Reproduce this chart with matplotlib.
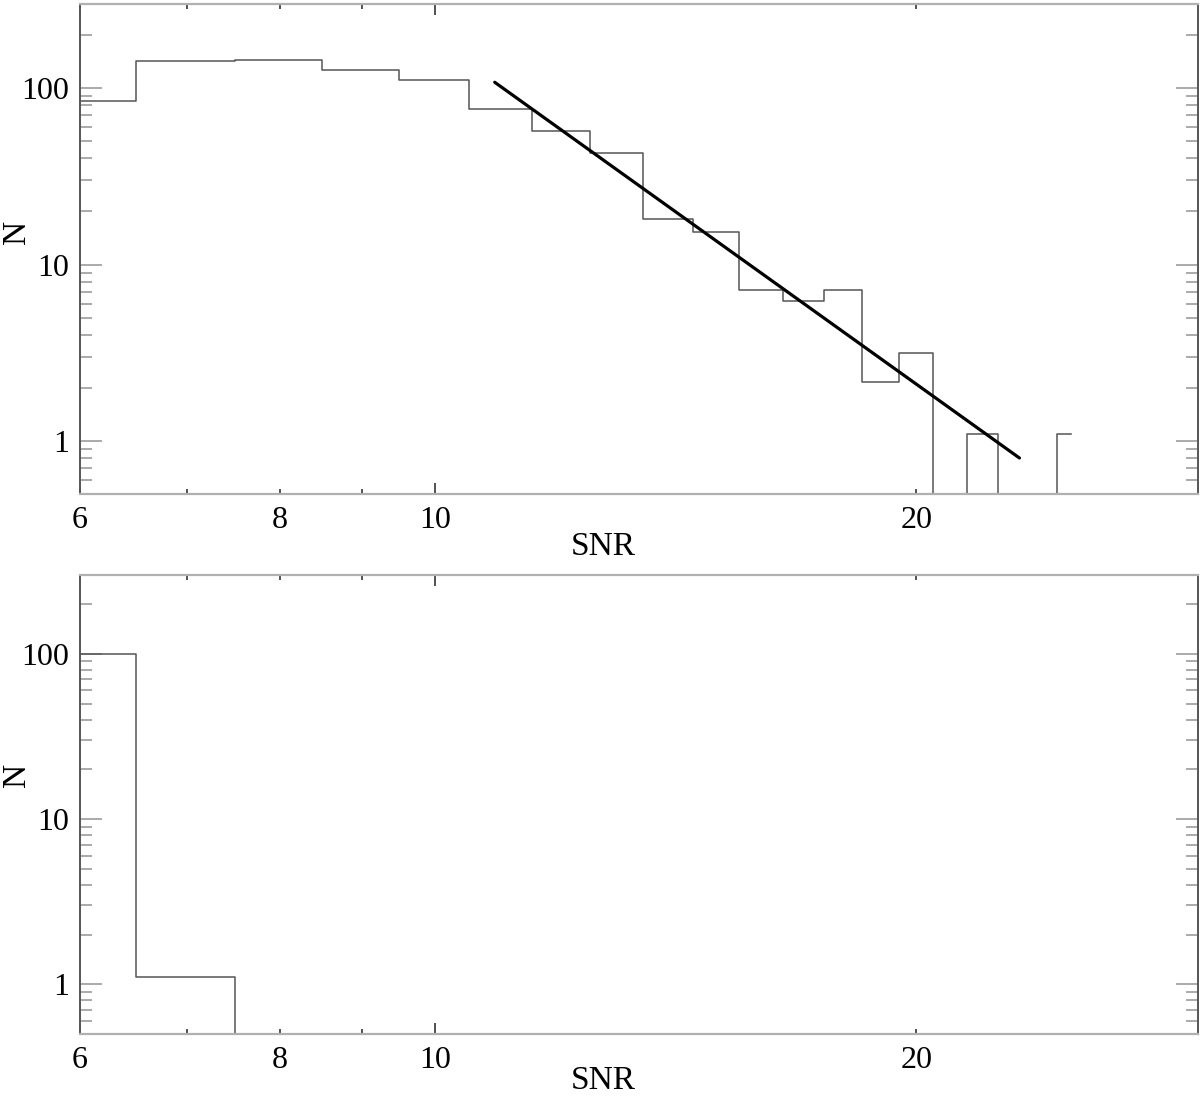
import matplotlib
matplotlib.use('Agg')
import matplotlib.pyplot as plt
from matplotlib.ticker import FixedLocator, FuncFormatter, LogLocator, NullFormatter

# histogram bin centres (SNR) and plotted counts (zero bins shown as 0.1, below the axis)
snr = [6, 7, 8, 9, 10, 11, 12, 13, 14, 15, 16, 17, 18, 19, 20, 21, 22, 23, 24, 25]
n_top = [85, 142, 144, 126, 111, 76, 57, 43, 18.2, 15.3, 7.2, 6.2, 7.2, 2.15, 3.15,
         0.1, 1.1, 0.1, 0.1, 1.1]
n_bottom = [100, 1.1, 0.1, 0.1, 0.1, 0.1, 0.1, 0.1, 0.1, 0.1, 0.1, 0.1, 0.1, 0.1, 0.1,
            0.1, 0.1, 0.1, 0.1, 0.1]

# power-law fit, end points
fit_snr = [10.9, 23.2]
fit_n = [108, 0.8]

x_labelled = [6, 8, 20]

plt.rcParams['font.family'] = ['Liberation Serif', 'DejaVu Serif']
plt.rcParams['font.size'] = 23

fig = plt.figure(figsize=(12, 10.97), dpi=100)
W, H = 1200, 1097
ax_top = fig.add_axes([80 / W, 1 - 494 / H, 1118 / W, 490 / H])
ax_bot = fig.add_axes([80 / W, 1 - 1034 / H, 1118 / W, 459 / H])


def style_axis(ax, label_x_y, label_y):
    ax.set_xscale('log')
    ax.set_yscale('log')
    ax.set_xlim(6, 30)
    ax.set_ylim(0.5, 300)

    ax.xaxis.set_major_locator(FixedLocator([10]))
    ax.xaxis.set_minor_locator(FixedLocator([6, 7, 8, 9, 20]))
    ax.xaxis.set_major_formatter(FuncFormatter(lambda v, p: f'{v:g}'))
    ax.xaxis.set_minor_formatter(FuncFormatter(
        lambda v, p: f'{v:g}' if round(v) in x_labelled else ''))

    ax.yaxis.set_major_locator(FixedLocator([1, 10, 100]))
    ax.yaxis.set_minor_locator(LogLocator(base=10, subs=range(2, 10)))
    ax.yaxis.set_major_formatter(FuncFormatter(lambda v, p: f'{v:g}'))
    ax.yaxis.set_minor_formatter(NullFormatter())

    ax.tick_params(axis='x', which='both', direction='in', top=True, bottom=True,
                   color='#333333', width=1.2, pad=9, labelsize=23)
    ax.tick_params(axis='x', which='major', length=8)
    ax.tick_params(axis='x', which='minor', length=3.5)
    ax.tick_params(axis='y', which='both', direction='in', left=True, right=True,
                   color='#aaaaaa', width=1.4, pad=8, labelsize=23)
    ax.tick_params(axis='y', which='major', length=16)
    ax.tick_params(axis='y', which='minor', length=8.5)

    for side in ['left', 'right']:
        ax.spines[side].set_color('#555555')
        ax.spines[side].set_linewidth(1.4)
    for side in ['top', 'bottom']:
        ax.spines[side].set_color('#b0b0b0')
        ax.spines[side].set_linewidth(1.6)

    ax.set_xlabel('SNR', fontsize=24)
    ax.set_ylabel('N', fontsize=24)
    ax.xaxis.label.set_va('center')
    ax.yaxis.label.set_va('center')
    ax.xaxis.set_label_coords(0.468, label_x_y)
    ax.yaxis.set_label_coords(-0.057, label_y)


ax_top.step(snr, n_top, where='mid', color='#555555', lw=1.1)
ax_top.plot(fit_snr, fit_n, color='black', lw=2.3, solid_capstyle='round')
style_axis(ax_top, -0.108, 0.535)

ax_bot.step(snr, n_bottom, where='mid', color='#555555', lw=1.1)
style_axis(ax_bot, -0.102, 0.564)

fig.savefig('out.png', dpi=100)
